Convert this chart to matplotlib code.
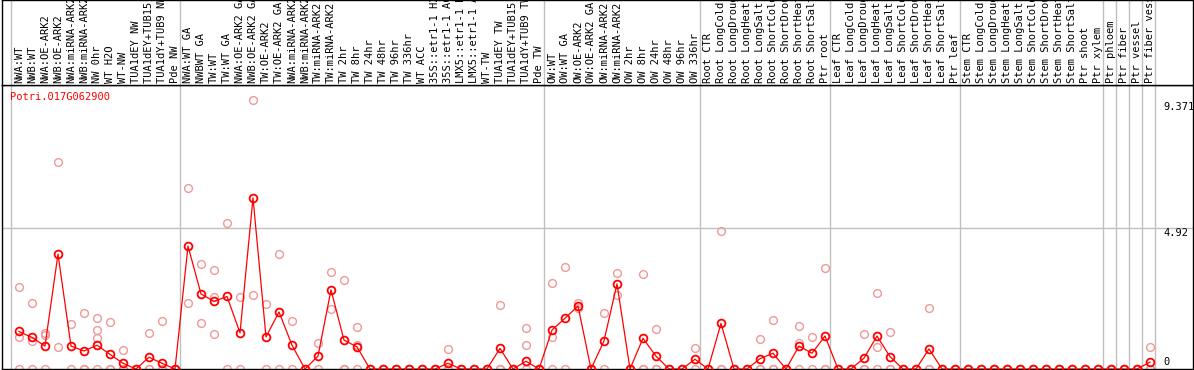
import matplotlib
matplotlib.use("Agg")
import matplotlib.pyplot as plt
import matplotlib.transforms as mtransforms

gene = "Potri.017G062900"

labels = [
	"NWA:WT", "NWB:WT", "NWA:OE-ARK2", "NWB:OE-ARK2", "NWA:miRNA-ARK2", "NWB:miRNA-ARK2",
	"NW 0hr", "WT H2O", "WT-NW", "TUA1dEY NW", "TUA1dEY+TUB15 NW", "TUA1dY+TUB9 NW", "Pde NW",
	"NWA:WT GA", "NWBWT GA", "TW:WT", "TW:WT GA", "NWA:OE-ARK2 GA", "NWB:OE-ARK2 GA",
	"TW:OE-ARK2", "TW:OE-ARK2 GA", "NWA:miRNA-ARK2", "NWB:miRNA-ARK2", "TW:miRNA-ARK2",
	"TW:miRNA-ARK2", "TW 2hr", "TW 8hr", "TW 24hr", "TW 48hr", "TW 96hr", "TW 336hr", "WT ACC",
	"35S::etr1-1 H2O", "35S::etr1-1 ACC", "LMX5::etr1-1 H2O", "LMX5::etr1-1 ACC", "WT-TW",
	"TUA1dEY TW", "TUA1dEY+TUB15 TW", "TUA1dY+TUB9 TW", "Pde TW",
	"OW:WT", "OW:WT GA", "OW:OE-ARK2", "OW:OE-ARK2 GA", "OW:miRNA-ARK2", "OW:miRNA-ARK2",
	"OW 2hr", "OW 8hr", "OW 24hr", "OW 48hr", "OW 96hr", "OW 336hr",
	"Root CTR", "Root LongCold", "Root LongDrought", "Root LongHeat", "Root LongSalt",
	"Root ShortCold", "Root ShortDrought", "Root ShortHeat", "Root ShortSalt", "Ptr root",
	"Leaf CTR", "Leaf LongCold", "Leaf LongDrought", "Leaf LongHeat", "Leaf LongSalt",
	"Leaf ShortCold", "Leaf ShortDrought", "Leaf ShortHeat", "Leaf ShortSalt", "Ptr leaf",
	"Stem CTR", "Stem LongCold", "Stem LongDrought", "Stem LongHeat", "Stem LongSalt",
	"Stem ShortCold", "Stem ShortDrought", "Stem ShortHeat", "Stem ShortSalt", "Ptr shoot",
	"Ptr xylem", "Ptr phloem", "Ptr fiber", "Ptr vessel", "Ptr fiber vessel",
]

# index of first sample of each block (last entry = end)
group_starts = [0, 13, 41, 53, 63, 73, 84, 85, 86, 87, 88]

mean_values = [
	1.31, 1.10, 0.80, 4.01, 0.80, 0.63, 0.83, 0.51, 0.20, 0, 0.41, 0.20, 0,
	4.29, 2.62, 2.36, 2.53, 1.26, 5.97, 1.12, 1.99, 0.83, 0, 0.45, 2.76, 1.01, 0.77,
	0, 0, 0, 0, 0, 0, 0.20, 0, 0, 0, 0.72, 0, 0.27, 0,
	1.36, 1.77, 2.20, 0, 0.98, 2.97, 0, 1.07, 0.45, 0, 0, 0.34,
	0, 1.59, 0, 0, 0.36, 0.55, 0, 0.80, 0.55, 1.15,
	0, 0, 0.38, 1.15, 0.43, 0, 0, 0.70, 0, 0,
	0, 0, 0, 0, 0, 0, 0, 0, 0, 0, 0,
	0, 0, 0, 0.24,
]

replicates = [
	[2.85, 1.10, 0], [2.29, 0.99, 0], [1.27, 1.17, 0], [7.21, 0.76], [1.57, 0], [1.94, 0, 0],
	[1.77, 1.36, 1.07, 0], [1.63, 0, 0], [0.66, 0, 0], [0, 0], [1.24, 0, 0], [1.67, 0], [0, 0],
	[6.30, 2.29], [3.66, 1.59], [3.44, 2.50, 1.21], [5.08, 0], [2.50, 0], [9.371, 2.57],
	[2.26, 0], [4.01, 0], [1.67, 0], [0, 0], [0.90, 0], [3.38, 2.08], [3.09, 0, 0],
	[1.45, 0.84, 0], [0, 0], [0, 0], [0, 0], [0, 0], [0, 0], [0, 0], [0.70, 0, 0],
	[0, 0], [0, 0], [0, 0], [2.22, 0, 0], [0, 0], [1.43, 0.83, 0], [0, 0],
	[2.99, 1.10, 0], [3.55, 0], [2.31, 2.12], [0, 0], [1.94, 0], [3.34, 2.57], [0, 0],
	[3.30, 0, 0], [1.38, 0, 0], [0, 0], [0, 0], [0.72, 0],
	[0, 0], [4.80, 0, 0], [0, 0], [0, 0], [1.03, 0, 0], [1.70, 0, 0], [0, 0],
	[1.49, 0.90, 0], [1.10, 0], [3.51, 0, 0],
	[0, 0], [0, 0], [1.21, 0, 0], [2.65, 0.76, 0], [1.28, 0, 0], [0, 0], [0, 0],
	[2.12, 0, 0], [0, 0], [0, 0],
	[0, 0], [0, 0], [0, 0], [0, 0], [0, 0], [0, 0], [0, 0], [0, 0], [0, 0], [0, 0], [0, 0],
	[0, 0], [0, 0], [0, 0], [0.76, 0, 0],
]

ytick_values = [0, 4.92, 9.371]
ytick_labels = ["0", "4.92", "9.371"]

FONT = "DejaVu Sans Mono"
FS = 7.5
GRID = "#c0c0c0"
RED = "#ff0000"
PINK = "#f09898"

W, H = 1194, 370
fig = plt.figure(figsize=(W / 100, H / 100), dpi=100)

# pixel geometry of the plot box
left_px, right_px, top_px, bot_px = 2, 1193, 85, 369
x0 = 19.0    # pixel centre of first sample
step = 13.0  # pixel width of one sample
ppu = 28.66  # pixels per expression unit

ax = fig.add_axes([left_px / W, (H - bot_px) / H, (right_px - left_px) / W, (bot_px - top_px) / H])
ax_lab = fig.add_axes([left_px / W, (H - top_px) / H, (right_px - left_px) / W, top_px / H])

xlim = ((left_px - x0) / step, (right_px - x0) / step)
for a in (ax, ax_lab):
	a.set_xlim(*xlim)
	a.set_xticks([])
	a.set_yticks([])
	for s in a.spines.values():
		s.set_color("black")
		s.set_linewidth(1.0)
	for g in group_starts:
		a.axvline(g - 0.65, color=GRID, lw=1.0, zorder=0)
ax.set_ylim(0, (bot_px - top_px) / ppu)
ax_lab.set_ylim(0, 1)

ax.axhline(4.92, color=GRID, lw=1.0, zorder=0)

# replicate points
for i, reps in enumerate(replicates):
	ax.plot([i] * len(reps), reps, linestyle="none", marker="o", ms=5.6,
		mfc="none", mec=PINK, mew=1.0, zorder=2)

# mean line
idx = list(range(len(mean_values)))
ax.plot(idx, mean_values, color=RED, lw=0.9, marker="o", ms=5.6,
	mfc="none", mec=RED, mew=1.3, zorder=3)

ax.text(8 / (right_px - left_px), 1 - 12.3 / (bot_px - top_px), gene, transform=ax.transAxes,
	color=RED, fontsize=FS, family=FONT, ha="left", va="center")

# y tick labels on the right (pixel offsets, up is positive)
xt = (1163 - x0) / step
offs = {"0": 7, "4.92": -5, "9.371": -7}
for v, t in zip(ytick_values, ytick_labels):
	ax.annotate(t, (xt, v), xytext=(0, offs[t]), textcoords="offset pixels",
		fontsize=FS, family=FONT, ha="left", va="center", color="black",
		annotation_clip=False)

# sample labels, rotated, clipped by the box
trans = mtransforms.blended_transform_factory(ax_lab.transData, ax_lab.transAxes)
for i, lbl in enumerate(labels):
	ax_lab.text(i, 2.0 / top_px, lbl, transform=trans, rotation=90, ha="center", va="bottom",
		fontsize=FS, family=FONT, color="black", clip_on=True)

fig.savefig("out.png", dpi=100)
